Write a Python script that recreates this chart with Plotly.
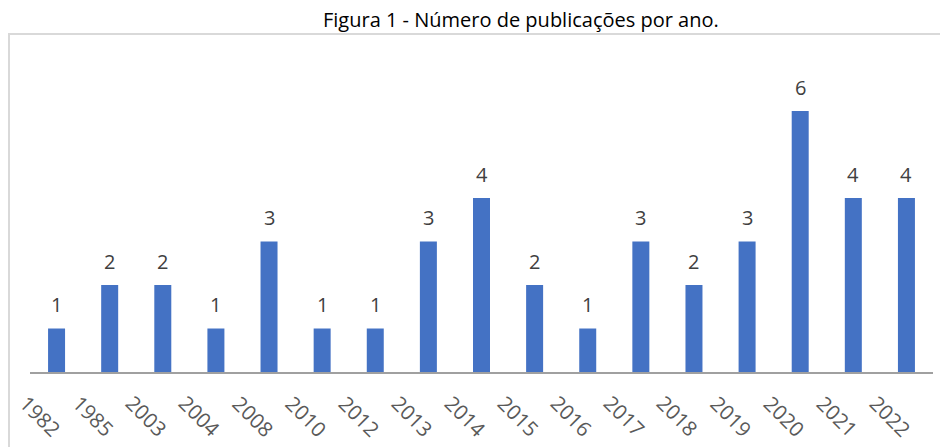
import plotly.graph_objects as go

years = ["1982", "1985", "2003", "2004", "2008", "2010", "2012", "2013", "2014",
         "2015", "2016", "2017", "2018", "2019", "2020", "2021", "2022"]
counts = [1, 2, 2, 1, 3, 1, 1, 3, 4, 2, 1, 3, 2, 3, 6, 4, 4]
title_text = "Figura 1 - Número de publicações por ano."

W, H = 940, 447
ml, mr, mt, mb = 30, 7, 67, 75
pw, ph = W - ml - mr, H - mt - mb

fig = go.Figure(go.Bar(
    x=years, y=counts, marker=dict(color="#4472C4", line=dict(width=0)),
    width=0.32, hoverinfo="x+y"))

annotations = []
for i, (yr, c) in enumerate(zip(years, counts)):
    annotations.append(dict(x=i, y=c, xref="x", yref="y", text=str(c), showarrow=False,
                            xanchor="center", yanchor="middle", yshift=24,
                            font=dict(family="Open Sans", size=20, color="#404040")))
    annotations.append(dict(x=i, y=0, xref="x", yref="paper", text=yr, showarrow=False,
                            xanchor="center", yanchor="middle", textangle=45,
                            xshift=-16, yshift=-44,
                            font=dict(family="Open Sans", size=20.5, color="#595959")))
annotations.append(dict(x=(521 - ml) / pw, y=(H - mb - 20) / ph, xref="paper", yref="paper",
                        text=title_text, showarrow=False, xanchor="center", yanchor="middle",
                        font=dict(family="Open Sans", size=20, color="#000000")))

fig.update_layout(
    width=W, height=H, margin=dict(l=ml, r=mr, t=mt, b=mb),
    paper_bgcolor="white", plot_bgcolor="white", showlegend=False,
    annotations=annotations,
    shapes=[dict(type="rect", xref="paper", yref="paper",
                 x0=(9 - ml) / pw, x1=1.1, y0=-0.5, y1=(H - mb - 34) / ph,
                 line=dict(color="#d9d9d9", width=2), layer="below")],
    xaxis=dict(type="category", range=[-0.5, len(years) - 0.5],
               showticklabels=False, ticks="", showgrid=False,
               showline=True, linecolor="#a0a0a0", linewidth=2, zeroline=False),
    yaxis=dict(range=[0, ph / 43.5], visible=False, showgrid=False, zeroline=False),
)

fig.write_html("out.html", config={"displayModeBar": False},
               post_script="document.body.style.margin='0';")
